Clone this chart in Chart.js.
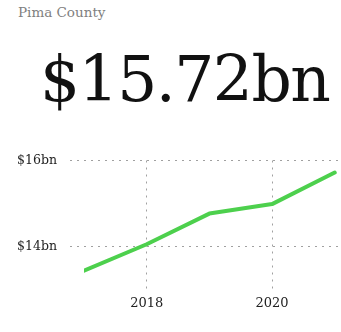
<!DOCTYPE html>
<html>
<head>
<meta charset="utf-8">
<script src="https://cdn.jsdelivr.net/npm/chart.js@4"></script>
<style>
    html, body { margin: 0; padding: 0; background: #fff; }
    body { width: 341px; height: 332px; position: relative; overflow: hidden; }
    .region {
        position: absolute; left: 18px; top: 4px;
        font: 13.5px "DejaVu Serif", serif; color: #808080;
    }
    .headline {
        position: absolute; left: 40px; top: 43px;
        font: 63px "DejaVu Serif", serif; color: #111; letter-spacing: -1.5px;
        white-space: nowrap;
    }
    #wrap { position: absolute; left: 0; top: 140px; width: 341px; height: 192px; }
</style>
</head>
<body>
<div class="region">Pima County</div>
<div class="headline">$15.72bn</div>
<div id="wrap"><canvas id="gdpChart"></canvas></div>

<script>
// Yearly totals, in billions of dollars
const years = [2017, 2018, 2019, 2020, 2021];
const totals = [13.45, 14.06, 14.77, 14.99, 15.72];

const xTicks = [2018, 2020];
const yTicks = [14, 16];

const lineColor = 'rgb(77, 208, 77)';
const gridColor = '#a0a0a0';
const dots = [2, 5];

const points = years.map((y, i) => ({ x: y, y: totals[i] }));

new Chart(document.getElementById('gdpChart'), {
    type: 'line',
    data: {
        datasets: [{
            data: points,
            borderColor: lineColor,
            borderWidth: 4,
            borderCapStyle: 'round',
            borderJoinStyle: 'round',
            pointRadius: 0,
            tension: 0,
            fill: false
        }]
    },
    options: {
        responsive: true,
        maintainAspectRatio: false,
        animation: false,
        layout: {
            padding: { top: 19, right: 0, bottom: 0, left: 0 }
        },
        plugins: {
            legend: { display: false },
            tooltip: { enabled: false }
        },
        scales: {
            x: {
                type: 'linear',
                min: 2017,
                // a little room past the last year so the grid runs to the edge
                max: 2021.1,
                afterBuildTicks: scale => { scale.ticks = xTicks.map(v => ({ value: v })); },
                afterFit: scale => { scale.height = 42; },
                border: { display: false, dash: dots },
                grid: { color: gridColor, drawTicks: false },
                ticks: {
                    padding: 6,
                    color: '#222',
                    font: { family: 'DejaVu Serif', size: 13 },
                    callback: v => String(v)
                }
            },
            y: {
                min: 13,
                max: 16,
                afterBuildTicks: scale => { scale.ticks = yTicks.map(v => ({ value: v })); },
                afterFit: scale => { scale.width = 84; },
                border: { display: false, dash: dots },
                grid: {
                    color: gridColor,
                    tickLength: 14,
                    tickBorderDash: dots
                },
                ticks: {
                    padding: 13,
                    color: '#222',
                    font: { family: 'DejaVu Serif', size: 12.5 },
                    callback: v => '$' + v + 'bn'
                }
            }
        }
    }
});
</script>
</body>
</html>
